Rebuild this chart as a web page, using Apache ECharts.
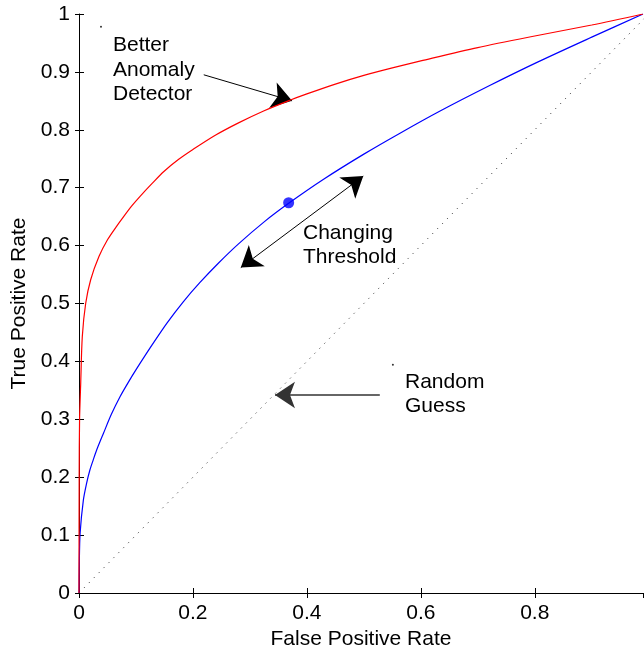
<!DOCTYPE html>
<html>
<head>
<meta charset="utf-8">
<script src="https://cdn.jsdelivr.net/npm/echarts@6/dist/echarts.min.js"></script>
<style>
  html, body { margin: 0; padding: 0; background: #fff; }
  #chart { width: 644px; height: 650px; }
</style>
</head>
<body>
<div id="chart"></div>
<script>
// red curve: better detector
const fprRed = [0, 0.0003, 0.001, 0.003, 0.0058, 0.0117, 0.0205, 0.035, 0.05, 0.065, 0.079, 0.093, 0.108, 0.128, 0.149, 0.175, 0.2, 0.24, 0.28, 0.325, 0.37, 0.4, 0.45, 0.5, 0.55, 0.6, 0.7, 0.8, 0.9, 0.99];
const tprRed = [0, 0.2, 0.3, 0.362, 0.443, 0.5, 0.541, 0.581, 0.61, 0.632, 0.651, 0.669, 0.686, 0.707, 0.728, 0.749, 0.766, 0.791, 0.812, 0.833, 0.851, 0.862, 0.879, 0.894, 0.907, 0.919, 0.942, 0.962, 0.981, 1];
// blue curve
const fprBlue = [0, 0.0005, 0.002, 0.0076, 0.013, 0.019, 0.025, 0.031, 0.043, 0.057, 0.072, 0.086, 0.101, 0.128, 0.155, 0.183, 0.212, 0.245, 0.28, 0.325, 0.368, 0.43, 0.5, 0.565, 0.633, 0.72, 0.803, 0.9, 0.99];
const tprBlue = [0, 0.05, 0.104, 0.16, 0.188, 0.212, 0.23, 0.247, 0.276, 0.309, 0.339, 0.363, 0.387, 0.428, 0.467, 0.503, 0.536, 0.57, 0.603, 0.641, 0.673, 0.715, 0.758, 0.795, 0.832, 0.876, 0.916, 0.96, 1];
// random guess diagonal
const diagonal = [[0, 0], [1, 1]];
// operating point on blue curve
const thresholdPoint = [0.368, 0.674];
// stray text anchor dots
const anchorDots = [[0.0386, 0.978], [0.551, 0.394]];
// annotation arrows [from, to]
const arrowBetter = [[0.219, 0.895], [0.374, 0.85]];
const arrowThreshold = [[0.284, 0.562], [0.499, 0.72]];
const arrowRandom = [[0.528, 0.342], [0.344, 0.342]];

const xTicks = [0, 0.2, 0.4, 0.6, 0.8];

const font = 'Liberation Sans, Arial, Helvetica, sans-serif';
const fontSize = 21;

const zip = (xs, ys) => xs.map((x, i) => [x, ys[i]]);

const chart = echarts.init(document.getElementById('chart'));

const baseAxis = {
  axisLine: { lineStyle: { color: '#000', width: 1 } },
  axisTick: { inside: true, length: 5, lineStyle: { color: '#000' } },
  splitLine: { show: false },
  axisLabel: { color: '#000', fontSize, fontFamily: font }
};

const label = (text, x, y) => ({
  type: 'text',
  left: x,
  top: y - 10,
  style: { text, fill: '#000', font: `${fontSize}px ${font}` }
});

const option = {
  animation: false,
  grid: { left: 79, top: 14, width: 564, height: 579, containLabel: false, outerBoundsMode: 'none' },
  xAxis: [
    {
      ...baseAxis,
      type: 'value',
      min: 0,
      max: 0.99,
      interval: 0.2,
      position: 'bottom',
      axisLabel: {
        ...baseAxis.axisLabel,
        margin: 10,
        showMaxLabel: false,
        formatter: (v) => (xTicks.includes(+v.toFixed(2)) ? String(+v.toFixed(2)) : '')
      },
      name: 'False Positive Rate',
      nameLocation: 'middle',
      nameGap: 34,
      nameTextStyle: { color: '#000', fontSize, fontFamily: font }
    },
    {
      ...baseAxis,
      type: 'value',
      min: 0,
      max: 0.99,
      interval: 0.2,
      position: 'top',
      axisLabel: { show: false }
    }
  ],
  yAxis: [
    {
      ...baseAxis,
      type: 'value',
      min: 0,
      max: 1,
      interval: 0.1,
      position: 'left',
      axisLabel: { ...baseAxis.axisLabel, margin: 9 },
      name: 'True Positive Rate',
      nameLocation: 'middle',
      nameGap: 47,
      nameTextStyle: { color: '#000', fontSize, fontFamily: font }
    },
    {
      ...baseAxis,
      type: 'value',
      min: 0,
      max: 1,
      interval: 0.1,
      position: 'right',
      axisLine: { show: false },
      axisTick: { inside: true, length: 4, lineStyle: { color: '#000' } },
      axisLabel: { show: false }
    }
  ],
  series: [
    {
      type: 'line',
      data: diagonal,
      showSymbol: false,
      lineStyle: { color: '#222', width: 1, type: [1, 6] }
    },
    {
      type: 'line',
      data: zip(fprBlue, tprBlue),
      smooth: 0.3,
      showSymbol: false,
      lineStyle: { color: '#0000ff', width: 1.2 }
    },
    {
      type: 'line',
      data: zip(fprRed, tprRed),
      smooth: 0.3,
      showSymbol: false,
      lineStyle: { color: '#ff0000', width: 1.2 }
    },
    {
      type: 'scatter',
      data: [thresholdPoint],
      symbolSize: 11,
      itemStyle: { color: '#0000ff' }
    },
    {
      type: 'scatter',
      data: anchorDots,
      symbolSize: 2,
      itemStyle: { color: '#000' }
    },
    {
      type: 'lines',
      coordinateSystem: 'cartesian2d',
      symbol: ['none', 'arrow'],
      symbolSize: 20,
      lineStyle: { color: '#000', width: 1, curveness: 0, opacity: 1 },
      data: [{ coords: arrowBetter }]
    },
    {
      type: 'lines',
      coordinateSystem: 'cartesian2d',
      symbol: ['arrow', 'arrow'],
      symbolSize: 20,
      lineStyle: { color: '#000', width: 1, curveness: 0, opacity: 1 },
      data: [{ coords: arrowThreshold }]
    },
    {
      type: 'lines',
      coordinateSystem: 'cartesian2d',
      symbol: ['none', 'arrow'],
      symbolSize: 20,
      lineStyle: { color: '#333', width: 1.5, curveness: 0, opacity: 1 },
      data: [{ coords: arrowRandom }]
    }
  ],
  graphic: [
    label('Better', 113, 45),
    label('Anomaly', 113, 70),
    label('Detector', 113, 94),
    label('Changing', 303, 233),
    label('Threshold', 303, 257),
    label('Random', 405, 382),
    label('Guess', 405, 406)
  ]
};

chart.setOption(option);
</script>
</body>
</html>
